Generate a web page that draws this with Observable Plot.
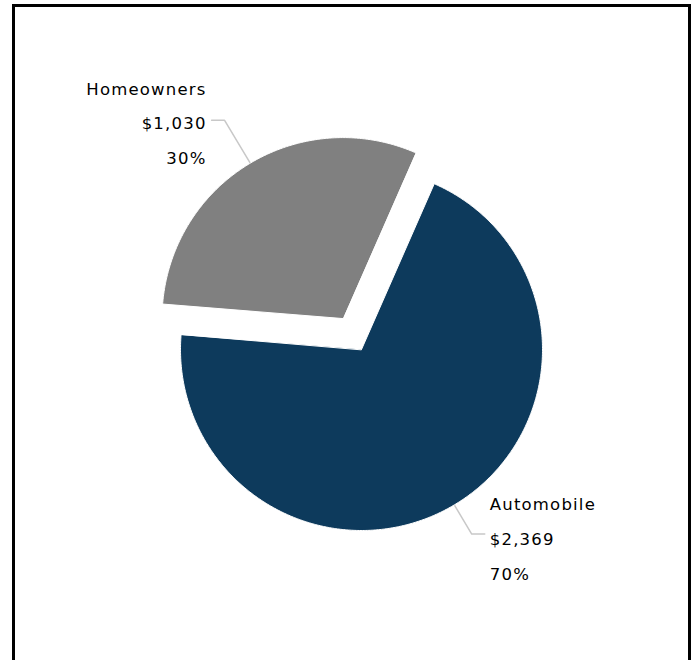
<!DOCTYPE html>
<html>
<head>
<meta charset="utf-8">
<script src="https://cdn.jsdelivr.net/npm/d3@7"></script>
<script src="https://cdn.jsdelivr.net/npm/@observablehq/plot@0.6"></script>
<style>
  html, body { margin: 0; padding: 0; background: #fff; }
  #wrap { position: relative; width: 696px; height: 660px; overflow: hidden; background: #fff; }
  #frame { position: absolute; left: 12px; top: 4px; width: 679px; height: 720px; box-sizing: border-box; border: 3px solid #000; border-bottom: none; }
  #chart { position: absolute; left: 0; top: 0; }
</style>
</head>
<body>
<div id="wrap"><div id="frame"></div><div id="chart"></div></div>
<script>
// ---- data ----
const categories = ["Automobile", "Homeowners"];
const values = [2369, 1030];
const valueLabels = ["$2,369", "$1,030"];
const percentLabels = ["70%", "30%"];
const colors = ["#0d3a5c", "#808080"];
const exploded = [false, true];

// ---- layout ----
const W = 696, H = 660;
const CX = 361, CY = 349, R = 181, EXPLODE = 36;
const START = 23.7 * Math.PI / 180;
const connectorOut = [34, 50];
const labelDy = [0, -2];
const HORIZ = 13, GAP = 5;

const arcs = d3.pie().sort(null).startAngle(START).endAngle(START + 2 * Math.PI)(values);

const slicePts = [];
const connectors = [];
const labels = [];
arcs.forEach((p, i) => {
  const name = categories[i];
  const mid = (p.startAngle + p.endAngle) / 2;
  const off = exploded[i] ? EXPLODE : 0;
  const ox = CX + off * Math.sin(mid), oy = CY - off * Math.cos(mid);
  slicePts.push({name, x: ox, y: oy});
  const n = Math.ceil((p.endAngle - p.startAngle) / (Math.PI / 360));
  for (let k = 0; k <= n; k++) {
    const a = p.startAngle + (p.endAngle - p.startAngle) * k / n;
    slicePts.push({name, x: ox + R * Math.sin(a), y: oy - R * Math.cos(a)});
  }
  const sx = ox + R * Math.sin(mid), sy = oy - R * Math.cos(mid);
  const er = R + connectorOut[i];
  const ex = ox + er * Math.sin(mid), ey = oy - er * Math.cos(mid);
  const right = Math.sin(mid) >= 0;
  const hx = ex + (right ? HORIZ : -HORIZ);
  connectors.push({name, x: sx, y: sy}, {name, x: ex, y: ey}, {name, x: hx, y: ey});
  labels.push({
    name, right,
    x: hx + (right ? GAP : -GAP),
    y: ey + labelDy[i],
    text: `${name}\n${valueLabels[i]}\n${percentLabels[i]}`
  });
});

const plot = Plot.plot({
  width: W,
  height: H,
  margin: 0,
  x: {domain: [0, W], range: [0, W], axis: null},
  y: {domain: [0, H], range: [0, H], axis: null},
  color: {domain: categories, range: colors},
  style: {fontFamily: "'DejaVu Sans', sans-serif", letterSpacing: "1.2px", background: "transparent"},
  marks: [
    Plot.line(connectors, {x: "x", y: "y", z: "name", stroke: "#c8c8c8", strokeWidth: 1.5}),
    Plot.line(slicePts, {x: "x", y: "y", z: "name", fill: "name", stroke: "#ffffff", strokeWidth: 1, curve: "linear-closed"}),
    Plot.text(labels.filter(d => d.right), {x: "x", y: "y", text: "text", textAnchor: "start", lineAnchor: "middle", lineHeight: 2.12, fontSize: 16.5, fill: "#000"}),
    Plot.text(labels.filter(d => !d.right), {x: "x", y: "y", text: "text", textAnchor: "end", lineAnchor: "middle", lineHeight: 2.09, fontSize: 16.5, fill: "#000"})
  ]
});
document.getElementById("chart").appendChild(plot);
</script>
</body>
</html>
